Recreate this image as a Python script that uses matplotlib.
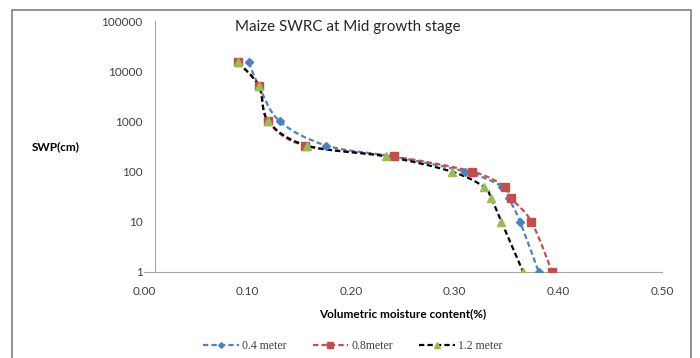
import numpy as np
import matplotlib
matplotlib.use("Agg")
import matplotlib.pyplot as plt
from matplotlib.path import Path
from matplotlib.patches import PathPatch, Rectangle
from matplotlib.lines import Line2D

# SWP (cm) levels and volumetric moisture content for each depth
swp_04 = [15000, 5000, 1000, 330, 200, 100, 50, 30, 10, 1]
vmc_04 = [0.101, 0.111, 0.131, 0.176, 0.240, 0.310, 0.346, 0.352, 0.363, 0.381]

swp_08 = [15000, 5000, 1000, 330, 200, 100, 50, 30, 10, 1]
vmc_08 = [0.091, 0.111, 0.120, 0.155, 0.241, 0.317, 0.348, 0.354, 0.374, 0.394]

swp_12 = [15000, 5000, 1000, 330, 200, 100, 50, 30, 10, 1]
vmc_12 = [0.091, 0.111, 0.120, 0.157, 0.234, 0.297, 0.328, 0.335, 0.345, 0.366]

labels = ["0.4 meter", "0.8meter", "1.2 meter"]
line_colors = ["#4F81BD", "#C0504D", "#000000"]
marker_colors = ["#4F81BD", "#C0504D", "#9BBB59"]
markers = ["D", "s", "^"]
msizes = [3.6, 5.8, 6.0]

xticks = [0.0, 0.1, 0.2, 0.3, 0.4, 0.5]
yticks = [1, 10, 100, 1000, 10000, 100000]

W, H = 700, 358
fig = plt.figure(figsize=(W / 100, H / 100), dpi=100)
ax = fig.add_axes([144 / W, 1 - 272 / H, (662 - 144) / W, (272 - 21) / H])

# chart area border
fig.patches.append(Rectangle((12 / W, -0.1), (691 - 12) / W, 1.1 - 10 / H,
                             transform=fig.transFigure, fill=False,
                             ec="#7f7f7f", lw=1.2, clip_on=False))


def smooth(ax, xs, ys, color):
    # Excel style smoothed line: bezier through points in (x, log y)
    p = np.column_stack([xs, np.log10(ys)])
    ext = np.vstack([p[0], p, p[-1]])
    verts = [p[0]]
    codes = [Path.MOVETO]
    for i in range(len(p) - 1):
        c1 = ext[i + 1] + (ext[i + 2] - ext[i]) / 6
        c2 = ext[i + 2] - (ext[i + 3] - ext[i + 1]) / 6
        verts += [c1, c2, ext[i + 2]]
        codes += [Path.CURVE4] * 3
    verts = np.array(verts)
    verts[:, 1] = 10 ** verts[:, 1]
    patch = PathPatch(Path(verts, codes), fill=False, ec=color, lw=1.6,
                      ls=(0, (2.4, 1.4)), transform=ax.transData)
    ax.add_patch(patch)


series = [(vmc_04, swp_04), (vmc_08, swp_08), (vmc_12, swp_12)]
for (xs, ys), lc in zip(series, line_colors):
    smooth(ax, xs, ys, lc)
for (xs, ys), mc, mk, ms in zip(series, marker_colors, markers, msizes):
    ax.plot(xs, ys, ls="none", marker=mk, ms=ms, mfc=mc, mec=mc, zorder=3)

ax.set_yscale("log")
ax.set_xlim(0, 0.5)
ax.set_ylim(1, 100000)
ax.set_xticks(xticks)
ax.set_xticklabels([f"{t:.2f}" for t in xticks])
ax.set_yticks(yticks)
ax.set_yticklabels([str(t) for t in yticks])
ax.minorticks_off()
ax.tick_params(length=0, labelsize=8.5, colors="#404040", pad=10)
ax.tick_params(axis="y", pad=9)
for s in ["top", "right"]:
    ax.spines[s].set_visible(False)
ax.spines["left"].set_position(("data", 0.0106))
ax.spines["left"].set_color("#a6a6a6")
ax.spines["bottom"].set_color("#a6a6a6")
for lab in ax.get_xticklabels() + ax.get_yticklabels():
    lab.set_fontfamily("Lato")

fig.text(235 / W, 1 - 27 / H, "Maize SWRC at Mid growth stage", family="Lato",
         fontsize=10.9, color="#262626", va="center", ha="left")
fig.text(32 / W, 1 - 147 / H, "SWP(cm)", family="Lato", fontweight="bold",
         fontsize=8.5, va="center", ha="left")
fig.text(403 / W, 1 - 314 / H, "Volumetric moisture content(%)", family="Lato",
         fontweight="bold", fontsize=8.5, va="center", ha="center")

handles = []
for lc, mc, mk, ms in zip(line_colors, marker_colors, markers, msizes):
    handles.append(Line2D([], [], color=lc, ls=(0, (2.4, 1.4)), lw=1.6,
                          marker=mk, ms=ms * 0.8, mfc=mc, mec=mc))
leg = fig.legend(handles, labels, loc="center",
                 bbox_to_anchor=(353 / W, 1 - 346 / H),
                 ncol=3, frameon=False, handlelength=3.0, handletextpad=0.3,
                 columnspacing=2.2,
                 prop={"family": "Liberation Serif", "size": 8.5})
for t in leg.get_texts():
    t.set_color("#404040")

fig.savefig("out.png", dpi=100)
